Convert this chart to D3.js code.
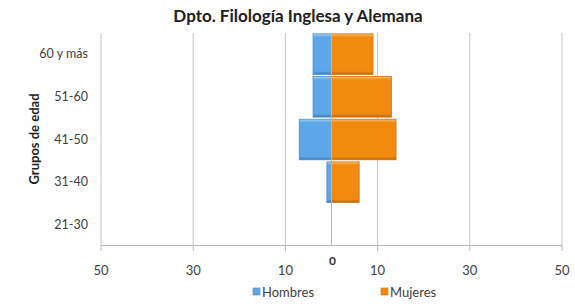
<!DOCTYPE html>
<html>
<head>
<meta charset="utf-8">
<script src="https://cdn.jsdelivr.net/npm/d3@7"></script>
<style>
  body { margin: 0; background: #fff; }
  svg { font-family: Lato, "Open Sans", sans-serif; }
</style>
</head>
<body>
<div id="chart"></div>
<script>
// datos del gráfico
const grupos = ["60 y más", "51-60", "41-50", "31-40", "21-30"];
const hombres = [4, 4, 7, 1, 0];
const mujeres = [9, 13, 14, 6, 0];
const ticks = [-50, -30, -10, 10, 30, 50];

const width = 575, height = 304;
const plotL = 101, plotR = 562, plotT = 33, plotB = 245;

const svg = d3.select('#chart').append('svg')
  .attr('width', width)
  .attr('height', height);

const x = d3.scaleLinear().domain([-50, 50]).range([plotL, plotR]);
const y = d3.scaleBand().domain(grupos).range([plotT, plotB + 1]).paddingInner(0.05).paddingOuter(0.02);

// degradados para el efecto biselado
const defs = svg.append('defs');
const grad = (id, light, mid, dark) => {
  const g = defs.append('linearGradient').attr('id', id)
    .attr('x1', 0).attr('y1', 0).attr('x2', 0).attr('y2', 1);
  g.append('stop').attr('offset', '0%').attr('stop-color', light);
  g.append('stop').attr('offset', '8%').attr('stop-color', mid);
  g.append('stop').attr('offset', '92%').attr('stop-color', mid);
  g.append('stop').attr('offset', '100%').attr('stop-color', dark);
};
grad('gAzul', '#a9d3f7', '#5da7e8', '#3b78b8');
grad('gNaranja', '#fbc06e', '#f28a10', '#b9650a');

// rejilla vertical
svg.append('g').selectAll('line')
  .data(ticks)
  .enter().append('line')
  .attr('x1', d => x(d)).attr('x2', d => x(d))
  .attr('y1', plotT).attr('y2', plotB)
  .style('stroke', '#c6c6c6')
  .style('stroke-width', 1);

// barras
const filas = grupos.map((g, i) => ({ g, h: hombres[i], m: mujeres[i] }));

const barra = (valor, fill, edge) => {
  svg.append('g').selectAll('rect')
    .data(filas.filter(d => valor(d) !== 0))
    .enter().append('rect')
    .attr('x', d => Math.min(x(0), x(valor(d))))
    .attr('y', d => y(d.g))
    .attr('width', d => Math.abs(x(valor(d)) - x(0)))
    .attr('height', y.bandwidth())
    .style('fill', fill)
    .style('stroke', edge)
    .style('stroke-width', 0.8);
};
barra(d => -d.h, 'url(#gAzul)', '#4a8dd0');
barra(d => d.m, 'url(#gNaranja)', '#d07410');

// eje vertical en 0
svg.append('line')
  .attr('x1', x(0)).attr('x2', x(0))
  .attr('y1', plotT).attr('y2', plotB)
  .style('stroke', '#b8b8b8');

// eje horizontal
svg.append('line')
  .attr('x1', plotL).attr('x2', plotR)
  .attr('y1', plotB + 0.5).attr('y2', plotB + 0.5)
  .style('stroke', '#b8b8b8');

svg.append('g').selectAll('line')
  .data(ticks)
  .enter().append('line')
  .attr('x1', d => x(d)).attr('x2', d => x(d))
  .attr('y1', plotB).attr('y2', plotB + 6)
  .style('stroke', '#b8b8b8');

svg.append('g').selectAll('text')
  .data(ticks)
  .enter().append('text')
  .attr('x', d => x(d))
  .attr('y', 275)
  .attr('text-anchor', 'middle')
  .style('font-size', '13px')
  .style('fill', '#404040')
  .text(d => Math.abs(d));

svg.append('text')
  .attr('x', x(0) + 1)
  .attr('y', 265)
  .attr('text-anchor', 'middle')
  .style('font-size', '12px')
  .style('font-weight', 'bold')
  .style('fill', '#303030')
  .text('0');

// etiquetas de categorías
svg.append('g').selectAll('text')
  .data(grupos)
  .enter().append('text')
  .attr('x', 88)
  .attr('y', d => y(d) + y.bandwidth() / 2 + 4)
  .attr('text-anchor', 'end')
  .style('font-size', '12.5px')
  .style('fill', '#404040')
  .text(d => d);

// título del eje
svg.append('text')
  .attr('transform', `translate(39,${(plotT + plotB) / 2}) rotate(-90)`)
  .attr('text-anchor', 'middle')
  .style('font-size', '13px')
  .style('font-weight', 'bold')
  .style('fill', '#202020')
  .text('Grupos de edad');

// título
svg.append('text')
  .attr('x', 298)
  .attr('y', 22)
  .attr('text-anchor', 'middle')
  .style('font-size', '17px')
  .style('font-weight', 'bold')
  .style('fill', '#202020')
  .text('Dpto. Filología Inglesa y Alemana');

// leyenda
const leyenda = [
  { nombre: 'Hombres', fill: 'url(#gAzul)', edge: '#4a8dd0', x: 253 },
  { nombre: 'Mujeres', fill: 'url(#gNaranja)', edge: '#d07410', x: 381 }
];
const item = svg.append('g').selectAll('g')
  .data(leyenda)
  .enter().append('g')
  .attr('transform', d => `translate(${d.x},288)`);
item.append('rect')
  .attr('width', 7).attr('height', 7)
  .style('fill', d => d.fill)
  .style('stroke', d => d.edge)
  .style('stroke-width', 0.6);
item.append('text')
  .attr('x', 9).attr('y', 9)
  .style('font-size', '13px')
  .style('fill', '#404040')
  .text(d => d.nombre);
</script>
</body>
</html>
